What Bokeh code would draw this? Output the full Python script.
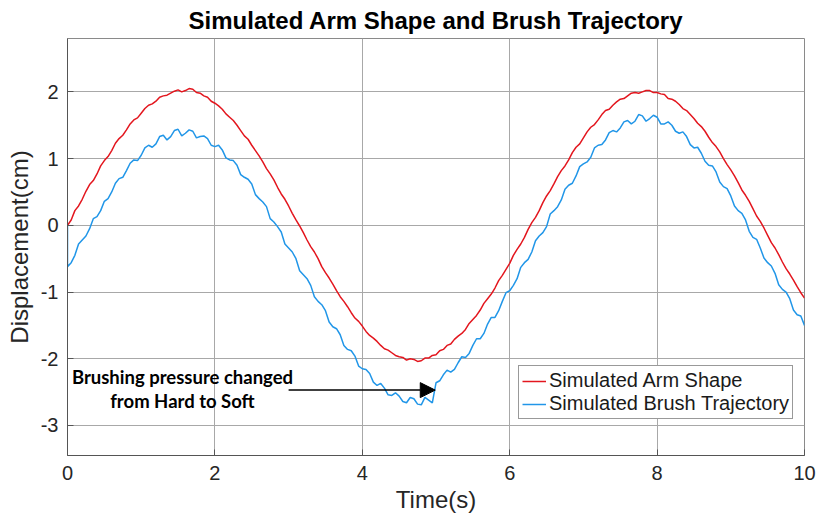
from bokeh.plotting import figure
from bokeh.models import ColumnDataSource, Range1d, FixedTicker, Legend, LegendItem, Label, Arrow, NormalHead
from bokeh.embed import file_html
from bokeh.resources import INLINE

# ---------------- data ----------------
time_s = [0.00, 0.05, 0.10, 0.15, 0.20, 0.25, 0.30, 0.35, 0.40, 0.45,
          0.50, 0.55, 0.60, 0.65, 0.70, 0.75, 0.80, 0.85, 0.90, 0.95,
          1.00, 1.05, 1.10, 1.15, 1.20, 1.25, 1.30, 1.35, 1.40, 1.45,
          1.50, 1.55, 1.60, 1.65, 1.70, 1.75, 1.80, 1.85, 1.90, 1.95,
          2.00, 2.05, 2.10, 2.15, 2.20, 2.25, 2.30, 2.35, 2.40, 2.45,
          2.50, 2.55, 2.60, 2.65, 2.70, 2.75, 2.80, 2.85, 2.90, 2.95,
          3.00, 3.05, 3.10, 3.15, 3.20, 3.25, 3.30, 3.35, 3.40, 3.45,
          3.50, 3.55, 3.60, 3.65, 3.70, 3.75, 3.80, 3.85, 3.90, 3.95,
          4.00, 4.05, 4.10, 4.15, 4.20, 4.25, 4.30, 4.35, 4.40, 4.45,
          4.50, 4.55, 4.60, 4.65, 4.70, 4.75, 4.80, 4.85, 4.90, 4.95,
          5.00, 5.05, 5.10, 5.15, 5.20, 5.25, 5.30, 5.35, 5.40, 5.45,
          5.50, 5.55, 5.60, 5.65, 5.70, 5.75, 5.80, 5.85, 5.90, 5.95,
          6.00, 6.05, 6.10, 6.15, 6.20, 6.25, 6.30, 6.35, 6.40, 6.45,
          6.50, 6.55, 6.60, 6.65, 6.70, 6.75, 6.80, 6.85, 6.90, 6.95,
          7.00, 7.05, 7.10, 7.15, 7.20, 7.25, 7.30, 7.35, 7.40, 7.45,
          7.50, 7.55, 7.60, 7.65, 7.70, 7.75, 7.80, 7.85, 7.90, 7.95,
          8.00, 8.05, 8.10, 8.15, 8.20, 8.25, 8.30, 8.35, 8.40, 8.45,
          8.50, 8.55, 8.60, 8.65, 8.70, 8.75, 8.80, 8.85, 8.90, 8.95,
          9.00, 9.05, 9.10, 9.15, 9.20, 9.25, 9.30, 9.35, 9.40, 9.45,
          9.50, 9.55, 9.60, 9.65, 9.70, 9.75, 9.80, 9.85, 9.90, 9.95,
          10.00]

arm_shape = [0.00, 0.08, 0.22, 0.29, 0.39, 0.51, 0.61, 0.67, 0.77, 0.89,
             0.97, 1.03, 1.12, 1.23, 1.30, 1.35, 1.43, 1.52, 1.58, 1.61,
             1.68, 1.75, 1.80, 1.82, 1.86, 1.92, 1.94, 1.95, 1.98, 2.01,
             2.03, 2.00, 2.02, 2.05, 2.04, 1.99, 1.98, 1.94, 1.92, 1.86,
             1.83, 1.79, 1.74, 1.67, 1.62, 1.57, 1.50, 1.42, 1.34, 1.29,
             1.20, 1.12, 1.04, 0.95, 0.85, 0.77, 0.68, 0.57, 0.47, 0.39,
             0.29, 0.18, 0.08, -0.01, -0.11, -0.22, -0.32, -0.40, -0.50, -0.62,
             -0.71, -0.79, -0.88, -0.98, -1.07, -1.14, -1.22, -1.31, -1.39, -1.44,
             -1.51, -1.59, -1.65, -1.69, -1.74, -1.80, -1.85, -1.87, -1.91, -1.95,
             -1.97, -1.98, -2.02, -2.00, -2.01, -2.04, -2.03, -1.99, -1.99, -1.95,
             -1.94, -1.88, -1.86, -1.80, -1.78, -1.71, -1.66, -1.62, -1.56, -1.47,
             -1.41, -1.35, -1.27, -1.17, -1.10, -1.03, -0.94, -0.83, -0.75, -0.66,
             -0.57, -0.45, -0.36, -0.28, -0.18, -0.06, 0.04, 0.12, 0.22, 0.34,
             0.44, 0.52, 0.62, 0.73, 0.82, 0.89, 0.98, 1.09, 1.17, 1.22,
             1.31, 1.40, 1.47, 1.51, 1.58, 1.66, 1.72, 1.74, 1.80, 1.85,
             1.89, 1.90, 1.94, 1.98, 1.99, 1.98, 2.00, 2.02, 2.02, 1.99,
             1.99, 1.97, 1.96, 1.90, 1.89, 1.86, 1.81, 1.75, 1.72, 1.66,
             1.60, 1.53, 1.48, 1.41, 1.32, 1.24, 1.18, 1.10, 1.00, 0.91,
             0.83, 0.74, 0.64, 0.53, 0.45, 0.36, 0.25, 0.14, 0.06, -0.04,
             -0.15, -0.26, -0.34, -0.44, -0.55, -0.65, -0.73, -0.82, -0.92, -1.01,
             -1.09]

# the brush trace starts with a drop from 0 at t = 0
brush_time_s = [0.0] + time_s
brush_trajectory = [0.00,
                    -0.62, -0.56, -0.45, -0.28, -0.22, -0.16, -0.05, 0.10, 0.13, 0.22,
                    0.36, 0.40, 0.50, 0.63, 0.70, 0.72, 0.82, 0.93, 0.98, 0.97,
                    1.05, 1.16, 1.20, 1.17, 1.22, 1.33, 1.35, 1.28, 1.33, 1.42,
                    1.44, 1.34, 1.38, 1.43, 1.41, 1.31, 1.33, 1.34, 1.30, 1.20,
                    1.18, 1.20, 1.13, 1.01, 0.98, 0.97, 0.90, 0.76, 0.72, 0.69,
                    0.62, 0.46, 0.40, 0.35, 0.28, 0.10, 0.05, -0.02, -0.10, -0.28,
                    -0.34, -0.40, -0.50, -0.68, -0.74, -0.80, -0.90, -1.07, -1.14, -1.19,
                    -1.28, -1.45, -1.52, -1.55, -1.64, -1.80, -1.86, -1.88, -1.96, -2.11,
                    -2.15, -2.16, -2.22, -2.35, -2.40, -2.37, -2.44, -2.54, -2.55, -2.51,
                    -2.56, -2.64, -2.66, -2.58, -2.60, -2.68, -2.69, -2.58, -2.62, -2.66,
                    -2.36, -2.33, -2.24, -2.17, -2.20, -2.16, -2.06, -1.97, -1.98, -1.92,
                    -1.80, -1.70, -1.70, -1.62, -1.48, -1.38, -1.38, -1.28, -1.14, -1.01,
                    -0.98, -0.90, -0.80, -0.63, -0.56, -0.51, -0.40, -0.23, -0.16, -0.11,
                    -0.02, 0.17, 0.22, 0.28, 0.38, 0.54, 0.60, 0.63, 0.74, 0.88,
                    0.92, 0.95, 1.02, 1.16, 1.20, 1.21, 1.28, 1.39, 1.42, 1.40,
                    1.46, 1.55, 1.57, 1.52, 1.56, 1.66, 1.64, 1.56, 1.60, 1.65,
                    1.62, 1.52, 1.52, 1.55, 1.50, 1.41, 1.38, 1.40, 1.33, 1.21,
                    1.16, 1.17, 1.08, 0.96, 0.90, 0.89, 0.80, 0.65, 0.58, 0.55,
                    0.44, 0.29, 0.22, 0.18, 0.08, -0.09, -0.18, -0.21, -0.34, -0.49,
                    -0.56, -0.61, -0.72, -0.89, -0.96, -1.00, -1.10, -1.27, -1.34, -1.36,
                    -1.50]

x_ticks = [0, 2, 4, 6, 8, 10]
y_ticks = [-3, -2, -1, 0, 1, 2]
y_tick_labels = ["-3", "-2", "-1", "0", "1", "2"]
series_names = ["Simulated Arm Shape", "Simulated Brush Trajectory"]
annotation_lines = ["Brushing pressure changed", "from Hard to Soft"]

RED = "#e3161e"
BLUE = "#2196e8"
FONT = "Liberation Sans"

p = figure(width=819, height=523, output_backend="svg", toolbar_location=None,
           x_range=Range1d(0, 10), y_range=Range1d(-3.45, 2.8),
           min_border_left=67, min_border_right=15, min_border_top=36, min_border_bottom=68,
           title="Simulated Arm Shape and Brush Trajectory")
p.background_fill_color = "white"
p.border_fill_color = "white"
p.outline_line_color = "#8a8a8a"
p.outline_line_width = 1

p.title.align = "center"
p.title.text_font = FONT
p.title.text_font_size = "24px"
p.title.text_font_style = "bold"
p.title.text_color = "black"
p.title.text_line_height = 0.9
p.title.standoff = 9

src_arm = ColumnDataSource(dict(t=time_s, y=arm_shape))
src_brush = ColumnDataSource(dict(t=brush_time_s, y=brush_trajectory))
r_arm = p.line("t", "y", source=src_arm, line_color=RED, line_width=1.5)
r_brush = p.line("t", "y", source=src_brush, line_color=BLUE, line_width=1.5)

# axes
p.xaxis.ticker = FixedTicker(ticks=x_ticks)
p.yaxis.ticker = FixedTicker(ticks=y_ticks)
p.yaxis.major_label_overrides = {v: s for v, s in zip(y_ticks, y_tick_labels)}
for ax in (p.xaxis[0], p.yaxis[0]):
    ax.major_tick_out = 0
    ax.major_tick_in = 6
    ax.minor_tick_out = 0
    ax.minor_tick_in = 0
    ax.major_tick_line_color = "#555555"
    ax.axis_line_color = "#555555"
    ax.major_label_text_font = FONT
    ax.major_label_text_font_size = "20px"
    ax.major_label_text_color = "#262626"
    ax.axis_label_text_font = FONT
    ax.axis_label_text_font_size = "24px"
    ax.axis_label_text_font_style = "normal"
    ax.axis_label_text_color = "#262626"
p.xaxis.axis_label = "Time(s)"
p.yaxis.axis_label = "Displacement(cm)"
p.xaxis.major_label_standoff = 10
p.yaxis.major_label_standoff = 9
p.xaxis.axis_label_standoff = 3
p.yaxis.axis_label_standoff = 5

p.xgrid.grid_line_color = "#a8a8a8"
p.ygrid.grid_line_color = "#a8a8a8"
p.xgrid.grid_line_width = 1
p.ygrid.grid_line_width = 1

# legend
legend = Legend(items=[LegendItem(label=series_names[0], renderers=[r_arm]),
                       LegendItem(label=series_names[1], renderers=[r_brush])],
                location=(451, 36), orientation="vertical")
legend.label_text_font = FONT
legend.label_text_font_size = "20px"
legend.label_text_color = "#1a1a1a"
legend.glyph_width = 24
legend.glyph_height = 20
legend.label_height = 20
legend.label_standoff = 3
legend.spacing = 0
legend.padding = 3
legend.margin = 0
legend.border_line_color = "#333333"
legend.border_line_width = 1
legend.background_fill_color = "white"
legend.background_fill_alpha = 1
p.add_layout(legend)

# annotation
p.add_layout(Label(x=1.56, y=-2.27, text=annotation_lines[0], text_align="center",
                   text_baseline="middle", text_font="Lato", text_font_style="bold",
                   text_font_size="18.5px", text_color="black"))
p.add_layout(Label(x=1.56, y=-2.63, text=annotation_lines[1], text_align="center",
                   text_baseline="middle", text_font="Lato", text_font_style="bold",
                   text_font_size="18.5px", text_color="black"))
p.add_layout(Arrow(x_start=3.0, y_start=-2.47, x_end=4.99, y_end=-2.47,
                   line_color="black", line_width=1.5,
                   end=NormalHead(size=15, fill_color="black", line_color="black")))

open("out.html", "w").write(file_html(p, INLINE))
